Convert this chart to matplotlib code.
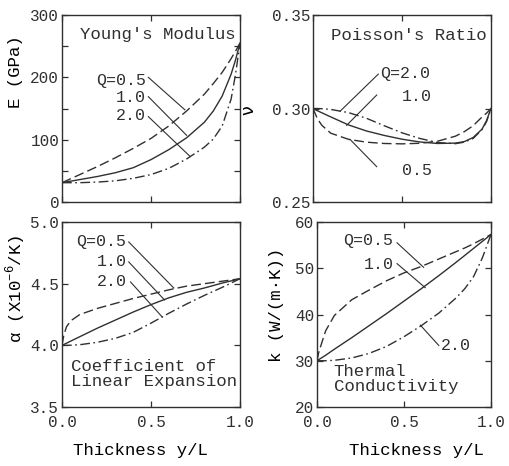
import matplotlib
matplotlib.use("Agg")
import matplotlib.pyplot as plt
from matplotlib.ticker import MultipleLocator, FixedLocator

plt.rcParams.update({
    'font.family': ['Liberation Mono', 'DejaVu Sans Mono'],
    'font.size': 12,
    'text.color': '#303030',
    'axes.edgecolor': '#303030',
    'axes.linewidth': 1.0,
    'xtick.color': '#303030',
    'ytick.color': '#303030',
    'mathtext.fontset': 'custom',
    'mathtext.rm': 'Liberation Mono',
})

INK = '#303030'

# ── Data ───────────────────────────────────────────────────────────────────────
Q_labels = ["0.5", "1.0", "2.0"]

# Young's modulus E [GPa]
x_E = [0, .1, .2, .3, .4, .5, .6, .7, .8, .85, .9, .95, .975, 1.0]
E_q05 = [31, 44, 57, 71, 86, 102, 122, 146, 173, 190, 208, 230, 242, 255]
E_q10 = [31, 36, 41, 47, 55, 68, 84, 103, 128, 146, 170, 205, 228, 255]
E_q20 = [31, 31, 32, 34, 38, 44, 54, 69, 88, 101, 122, 165, 205, 255]

# Poisson's ratio nu [-]
x_nu = [0, .025, .05, .1, .2, .3, .4, .5, .6, .7, .8, .85, .9, .95, .975, 1.0]
nu_q05 = [0.300, 0.2945, 0.2910, 0.2868, 0.2835, 0.2820, 0.2813, 0.2811,
          0.2814, 0.2825, 0.2852, 0.2876, 0.2908, 0.2955, 0.2975, 0.300]
nu_q10 = [0.300, 0.2988, 0.2977, 0.2955, 0.2912, 0.2880, 0.2856, 0.2836,
          0.2821, 0.2813, 0.2815, 0.2823, 0.2845, 0.2890, 0.2935, 0.300]
nu_q20 = [0.300, 0.3000, 0.2999, 0.2995, 0.2978, 0.2948, 0.2908, 0.2870,
          0.2840, 0.2818, 0.2812, 0.2820, 0.2840, 0.2888, 0.2930, 0.300]

# Coefficient of linear expansion alpha [1e-6/K]
x_al = [0, .01, .025, .05, .1, .2, .3, .4, .5, .6, .7, .8, .9, 1.0]
al_q05 = [4.0, 4.08, 4.15, 4.20, 4.25, 4.30, 4.34, 4.38, 4.415, 4.45, 4.48, 4.50, 4.52, 4.54]
al_q10 = [4.0, 4.007, 4.017, 4.035, 4.07, 4.14, 4.205, 4.27, 4.33, 4.385, 4.43, 4.465, 4.505, 4.54]
al_q20 = [4.0, 4.0, 4.0, 4.001, 4.005, 4.025, 4.057, 4.105, 4.18, 4.26, 4.335, 4.405, 4.47, 4.54]

# Thermal conductivity k [W/(m K)]
x_k = [0, .01, .025, .05, .1, .2, .3, .4, .5, .6, .7, .8, .85, .9, .95, 1.0]
k_q05 = [30, 31.8, 33.6, 36.5, 39.8, 43.2, 45.3, 47.3, 49.0, 50.4, 52.0, 53.6, 54.4, 55.3, 56.3, 57.3]
k_q10 = [30, 30.25, 30.6, 31.2, 32.5, 35.0, 37.6, 40.2, 42.9, 45.6, 48.4, 51.3, 52.8, 54.3, 55.8, 57.3]
k_q20 = [30, 30, 30, 30, 30.1, 30.6, 31.6, 33.1, 35.2, 37.6, 40.3, 43.6, 45.6, 48.2, 52.2, 57.3]

styles = [
    dict(linestyle=(0, (7, 3))),              # Q = 0.5 dashed
    dict(linestyle='-'),                      # Q = 1.0 solid
    dict(linestyle=(0, (7, 2.5, 1.2, 2.5))),  # Q = 2.0 dash-dot
]

# ── Figure ─────────────────────────────────────────────────────────────────────
fig = plt.figure(figsize=(5.09, 4.66), dpi=100)
ax_E = fig.add_axes([0.1218, 0.5665, 0.3497, 0.4013])
ax_nu = fig.add_axes([0.6149, 0.5665, 0.3497, 0.4013])
ax_al = fig.add_axes([0.1218, 0.1266, 0.3497, 0.3970])
ax_k = fig.add_axes([0.6228, 0.1266, 0.3418, 0.3970])

panels = [
    (ax_E, x_E, [E_q05, E_q10, E_q20]),
    (ax_nu, x_nu, [nu_q05, nu_q10, nu_q20]),
    (ax_al, x_al, [al_q05, al_q10, al_q20]),
    (ax_k, x_k, [k_q05, k_q10, k_q20]),
]
for ax, xs, curves in panels:
    for ys, st in zip(curves, styles):
        ax.plot(xs, ys, color=INK, linewidth=1.0, **st)
    ax.set_xlim(0, 1)
    ax.xaxis.set_major_locator(FixedLocator([0, 0.5, 1.0]))
    ax.tick_params(which='both', direction='in', top=True, right=True,
                   length=4, width=0.9, labelsize=11.5, pad=2)
    ax.tick_params(axis='x', pad=6)

for ax in (ax_E, ax_nu):
    ax.tick_params(axis='x', labelbottom=False)

# axis limits / ticks
ax_E.set_ylim(0, 300)
ax_E.yaxis.set_major_locator(MultipleLocator(100))
ax_E.yaxis.set_minor_locator(MultipleLocator(50))
ax_nu.set_ylim(0.25, 0.35)
ax_nu.yaxis.set_major_locator(MultipleLocator(0.05))
ax_nu.yaxis.set_major_formatter(lambda v, p: f"{v:.2f}")
ax_al.set_ylim(3.5, 5.0)
ax_al.yaxis.set_major_locator(MultipleLocator(0.5))
ax_al.yaxis.set_major_formatter(lambda v, p: f"{v:.1f}")
ax_k.set_ylim(20, 60)
ax_k.yaxis.set_major_locator(MultipleLocator(10))
for ax in (ax_al, ax_k):
    ax.xaxis.set_major_formatter(lambda v, p: f"{v:.1f}")

# axis labels
ax_E.set_ylabel("E (GPa)", fontsize=12.5)
ax_E.yaxis.set_label_coords(-0.22, 0.695)
ax_nu.set_ylabel("ν", fontsize=12.5, family='DejaVu Sans')
ax_nu.yaxis.set_label_coords(-0.31, 0.49)
ax_al.set_ylabel("α (X10$^{-6}$/K)", fontsize=12.5)
ax_al.yaxis.set_label_coords(-0.19, 0.64)
ax_k.set_ylabel("k (W/(m·K))", fontsize=12.5)
ax_k.yaxis.set_label_coords(-0.19, 0.55)
ax_al.set_xlabel("Thickness y/L", fontsize=12.5)
ax_al.xaxis.set_label_coords(0.44, -0.195)
ax_k.set_xlabel("Thickness y/L", fontsize=12.5)
ax_k.xaxis.set_label_coords(0.57, -0.195)

# panel titles
ax_E.text(0.975, 268, "Young's Modulus", ha='right', va='center', fontsize=12.5)
ax_nu.text(0.975, 0.3393, "Poisson's Ratio", ha='right', va='center', fontsize=12.5)
ax_al.text(0.052, 3.765, "Coefficient of\nLinear Expansion", ha='left', va='center',
           fontsize=12.5, linespacing=1.0)
ax_k.text(0.095, 25.95, "Thermal\nConductivity", ha='left', va='center',
          fontsize=12.5, linespacing=1.0)

# Q labels with leader lines: (text, text x, text y, ha, line start, line end)
lead = {
    ax_E: [("Q=" + Q_labels[0], 0.47, 195, 'right', (0.485, 200), (0.69, 148)),
           (Q_labels[1], 0.47, 168, 'right', (0.485, 169), (0.70, 107)),
           (Q_labels[2], 0.47, 139, 'right', (0.485, 137), (0.72, 73))],
    ax_nu: [("Q=" + Q_labels[2], 0.375, 0.3188, 'left', (0.367, 0.3184), (0.152, 0.2985)),
            (Q_labels[1], 0.50, 0.3063, 'left', (0.358, 0.3072), (0.189, 0.2910)),
            (Q_labels[0], 0.50, 0.2671, 'left', (0.358, 0.2689), (0.208, 0.2835))],
    ax_al: [("Q=" + Q_labels[0], 0.362, 4.845, 'right', (0.375, 4.838), (0.628, 4.465)),
            (Q_labels[1], 0.362, 4.676, 'right', (0.375, 4.676), (0.576, 4.368)),
            (Q_labels[2], 0.362, 4.514, 'right', (0.385, 4.514), (0.563, 4.23))],
    ax_k: [("Q=" + Q_labels[0], 0.44, 55.9, 'right', (0.46, 55.5), (0.613, 50.2)),
           (Q_labels[1], 0.44, 50.9, 'right', (0.46, 51.0), (0.622, 45.8)),
           (Q_labels[2], 0.71, 33.3, 'left', (0.70, 33.3), (0.594, 37.7))],
}
for ax, items in lead.items():
    for txt, tx, ty, ha, p0, p1 in items:
        ax.text(tx, ty, txt, ha=ha, va='center', fontsize=12)
        ax.plot([p0[0], p1[0]], [p0[1], p1[1]], color=INK, linewidth=0.8)

fig.savefig("out.png", dpi=100, facecolor='white')
